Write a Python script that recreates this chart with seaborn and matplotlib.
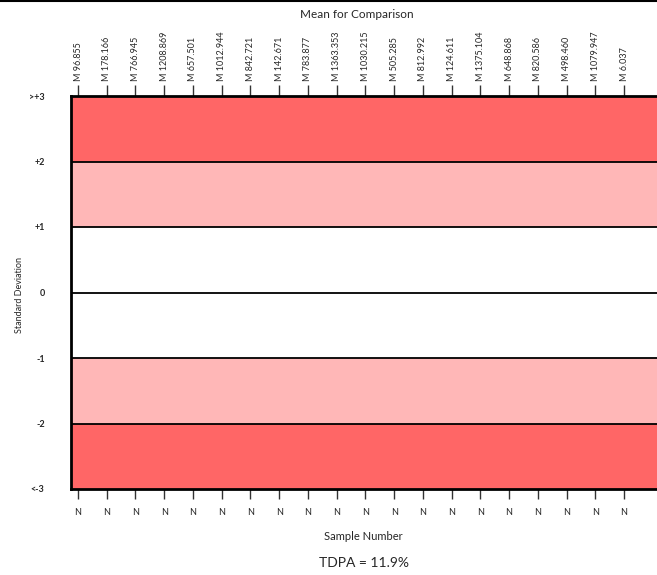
import matplotlib
matplotlib.use("Agg")
import matplotlib.pyplot as plt
from matplotlib.lines import Line2D
import seaborn as sns

# ------------------------------------------------------------
# dados
# ------------------------------------------------------------
sample_no = list(range(1, 21))
means = ["96.855", "178.166", "766.945", "1208.869", "657.501", "1012.944",
         "842.721", "142.671", "783.877", "1363.353", "1030.215", "505.285",
         "812.992", "124.611", "1375.104", "648.868", "820.586", "498.460",
         "1079.947", "6.037"]
flags = ["N"] * 20

sd_ticks = [-3, -2, -1, 0, 1, 2, 3]
sd_labels = ["<-3", "-2", "-1", "0", "+1", "+2", ">+3"]

band_low = [2, 1, 0, -1, -2, -3]
band_high = [3, 2, 1, 0, -1, -2]
band_color = ["#FF6666", "#FFB7B7", "#FFFFFF", "#FFFFFF", "#FFB7B7", "#FF6666"]

# ------------------------------------------------------------
# estilo
# ------------------------------------------------------------
sns.set_theme(style="white")
plt.rcParams["font.family"] = ["Lato", "DejaVu Sans"]

fig = plt.figure(figsize=(6.57, 5.75), dpi=100)
ax = fig.add_axes([71 / 657, 86 / 575, 590 / 657, 393 / 575])

for lo, hi, c in zip(band_low, band_high, band_color):
    ax.axhspan(lo, hi, color=c, lw=0, zorder=0)
for y in band_high[1:]:
    ax.axhline(y, color="black", lw=1.3, zorder=1)

ax.set_xlim(0.756, 0.756 + 590 / 28.74)
ax.set_ylim(-3, 3)

ax.set_yticks(sd_ticks)
ax.set_yticklabels(sd_labels, fontsize=6.5, fontweight="bold")
ax.tick_params(axis="y", length=0, pad=19)

ax.set_xticks(sample_no)
ax.set_xticklabels(flags, fontsize=6.5)
ax.tick_params(axis="x", bottom=True, length=7, width=1, color="#333333",
               pad=7, direction="out")

for side in ["left", "bottom", "top"]:
    ax.spines[side].set_color("black")
    ax.spines[side].set_linewidth(2)
ax.spines["right"].set_visible(False)

top = ax.secondary_xaxis("top")
top.set_xticks(sample_no)
top.set_xticklabels(["M " + m for m in means], rotation=90, fontsize=6.5)
top.tick_params(axis="x", length=8, width=1, color="#333333", pad=3)
top.spines["top"].set_visible(False)

fig.text(20 / 657, 1 - 295 / 575, "Standard Deviation", rotation=90,
         ha="center", va="center", fontsize=6.5)
fig.text(357 / 657, 1 - 14 / 575, "Mean for Comparison", ha="center",
         va="center", fontsize=8.5)
fig.text(363 / 657, 1 - 537 / 575, "Sample Number", ha="center",
         va="center", fontsize=8)
fig.text(364 / 657, 1 - 563 / 575, "TDPA = 11.9%", ha="center",
         va="center", fontsize=10)

fig.add_artist(Line2D([0, 1], [0.998, 0.998], color="black", lw=1.5))

fig.savefig("out.png", dpi=100)
